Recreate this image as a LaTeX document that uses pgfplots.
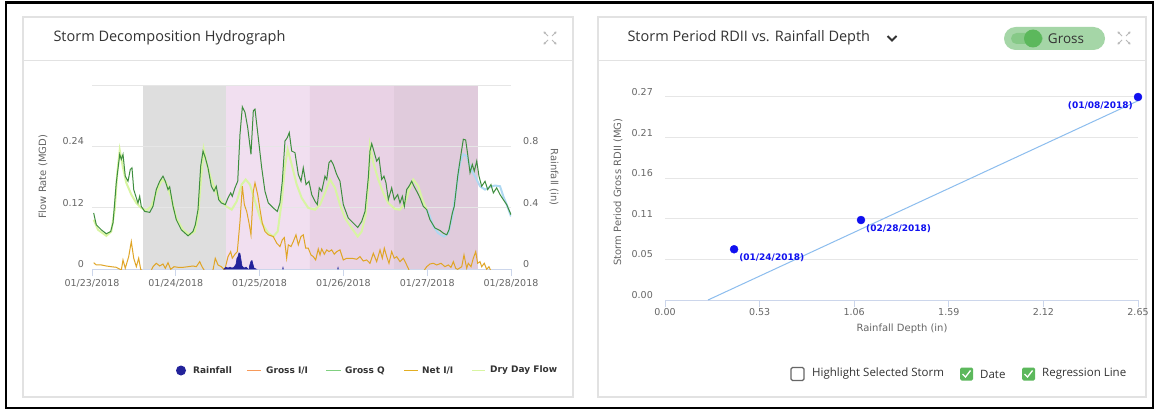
\documentclass[border=0pt]{standalone}
\usepackage{pgfplots}
\pgfplotsset{compat=1.18}
\usepackage{fontspec}
\setmainfont{DejaVu Sans}
\newfontfamily\uifont{Open Sans}
\usetikzlibrary{arrows.meta}
\definecolor{gridc}{HTML}{E6E6E6}
\definecolor{axisc}{HTML}{CCD6EB}
\definecolor{tickc}{HTML}{666666}
\definecolor{txtc}{HTML}{333333}
\definecolor{grossq}{HTML}{3E8E3E}
\definecolor{dryc}{HTML}{D8F5A2}
\definecolor{netc}{HTML}{E0A526}
\definecolor{grossii}{HTML}{F79A5A}
\definecolor{rainc}{HTML}{22229A}
\definecolor{lblue}{HTML}{AED8F2}
\definecolor{bandA}{HTML}{DEDEDE}
\definecolor{bandB}{HTML}{F1DFF0}
\definecolor{bandC}{HTML}{E9D2E5}
\definecolor{bandD}{HTML}{E0CBDC}
\definecolor{ptc}{HTML}{1010F0}
\definecolor{regc}{HTML}{8CBDEE}
\definecolor{cardc}{HTML}{E2E2E2}
\definecolor{pillc}{HTML}{A5D6A7}
\definecolor{knobc}{HTML}{5CB85C}
\definecolor{trackc}{HTML}{86C987}
\definecolor{chkc}{HTML}{5CB85C}
\newcommand\tickfont{\fontsize{9.5bp}{11bp}\selectfont}
\newcommand\expandicon[2]{%
  \begin{scope}[shift={(#1,#2)}, draw=gray!55, line width=0.8bp]
    \draw[-{Triangle[length=2.2bp,width=2.6bp]}] (-2,2) -- (-6.5,6.5);
    \draw[-{Triangle[length=2.2bp,width=2.6bp]}] (2,2) -- (6.5,6.5);
    \draw[-{Triangle[length=2.2bp,width=2.6bp]}] (-2,-2) -- (-6.5,-6.5);
    \draw[-{Triangle[length=2.2bp,width=2.6bp]}] (2,-2) -- (6.5,-6.5);
  \end{scope}}
\pgfplotsset{
  hyd/.style={scale only axis, width=419bp, height=184bp, xmin=0, xmax=5,
    at={(92bp,141bp)}, anchor=south west},
}
\begin{document}
\begin{tikzpicture}[x=1bp,y=1bp]
\useasboundingbox (0,0) rectangle (1156,410);
\fill[white] (0,0) rectangle (1156,410);
\draw[black, line width=2.5bp] (6,2) rectangle (1153,407.5);
% cards
\draw[cardc, line width=1.2bp, fill=white] (23,13) rectangle (573,393);
\draw[cardc, line width=1bp] (23,350) -- (573,350);
\draw[cardc, line width=1.2bp, fill=white] (598,13) rectangle (1146,393);
\draw[cardc, line width=1bp] (598,350) -- (1146,350);
\node[anchor=west, text=txtc, font=\uifont\fontsize{14.5bp}{16bp}\selectfont] at (50,372) {Storm Decomposition Hydrograph};
\node[anchor=west, text=txtc, font=\uifont\fontsize{14.5bp}{16bp}\selectfont] at (624,372) {Storm Period RDII vs. Rainfall Depth};
\draw[txtc, line width=1.8bp] (887.5,374) -- (892,369.5) -- (896.5,374);
\expandicon{550}{372}
\expandicon{1124}{372}
% toggle
\fill[pillc, rounded corners=11.5bp] (1004,360) rectangle (1105,383);
\fill[trackc, rounded corners=5.5bp] (1011,366) rectangle (1043,377);
\fill[knobc] (1033,371.5) circle (9);
\node[text=txtc, font=\uifont\fontsize{13.5bp}{15bp}\selectfont] at (1066,371.5) {Gross};

% ---------------- left chart ----------------
\begin{axis}[hyd, ymin=0, ymax=0.36, hide axis]
\addplot[fill=bandA, draw=none] coordinates {(0.609,0)(0.609,0.36)(1.599,0.36)(1.599,0)} \closedcycle;
\addplot[fill=bandB, draw=none] coordinates {(1.599,0)(1.599,0.36)(2.601,0.36)(2.601,0)} \closedcycle;
\addplot[fill=bandC, draw=none] coordinates {(2.601,0)(2.601,0.36)(3.604,0.36)(3.604,0)} \closedcycle;
\addplot[fill=bandD, draw=none] coordinates {(3.604,0)(3.604,0.36)(4.606,0.36)(4.606,0)} \closedcycle;
\end{axis}

\begin{axis}[hyd, ymin=0, ymax=0.36,
  axis x line*=bottom, axis y line*=left,
  y axis line style={draw=none}, x axis line style={draw=axisc, line width=1bp, -},
  xtick={0,1,2,3,4,5},
  xticklabels={01/23/2018,01/24/2018,01/25/2018,01/26/2018,01/27/2018,01/28/2018},
  tick align=outside, major tick length=7bp,
  xtick style={draw=axisc, line width=1bp}, ytick style={draw=none},
  ytick={0,0.12,0.24,0.36}, yticklabels={0,0.12,0.24,{}},
  ymajorgrids, grid style={draw=gridc, line width=1bp},
  ticklabel style={font=\tickfont, text=tickc},
  /pgf/number format/assume math mode=true,
  yticklabel style={anchor=east, yshift=5bp, inner sep=0pt, xshift=-1bp},
  xticklabel style={anchor=north, inner sep=0pt, yshift=-3bp},
]
\addplot[dryc, line width=2bp] coordinates {
(0.020,0.0964)(0.072,0.0767)(0.171,0.0649)(0.230,0.0734)(0.271,0.1161)(0.302,0.1883)(0.331,0.2327)(0.370,0.1981)(0.409,0.1686)(0.469,0.1456)(0.529,0.1292)(0.588,0.1194)(0.648,0.1147)(0.708,0.1226)(0.767,0.1489)(0.835,0.1751)(0.887,0.1686)(0.946,0.1391)(1.006,0.0997)(1.086,0.0767)(1.166,0.0669)(1.226,0.0734)(1.265,0.1029)(1.304,0.1816)(1.333,0.2341)(1.376,0.2012)(1.424,0.1751)(1.483,0.1489)(1.543,0.1324)(1.603,0.1226)(1.667,0.1161)(1.727,0.1324)(1.786,0.1652)(1.834,0.1751)(1.885,0.1652)(1.945,0.1324)(2.025,0.0899)(2.104,0.0702)(2.163,0.0635)(2.216,0.0734)(2.264,0.1324)(2.303,0.2012)(2.335,0.2341)(2.383,0.2046)(2.443,0.1652)(2.502,0.1391)(2.581,0.1194)(2.661,0.1161)(2.721,0.1259)(2.780,0.1489)(2.840,0.1751)(2.900,0.1588)(2.959,0.1259)(3.019,0.0997)(3.099,0.0801)(3.171,0.0635)(3.218,0.0734)(3.266,0.1062)(3.305,0.1784)(3.317,0.2406)(3.357,0.2079)(3.416,0.1751)(3.476,0.1489)(3.536,0.1292)(3.616,0.1174)(3.675,0.1161)(3.735,0.1292)(3.786,0.1554)(3.834,0.1751)(3.894,0.1619)(3.942,0.1357)(3.994,0.1161)};
\addplot[lblue, line width=2bp] coordinates {
(3.994,0.1161)(4.033,0.1029)(4.073,0.0832)(4.132,0.0702)(4.200,0.0635)(4.252,0.0702)(4.300,0.1029)(4.352,0.1619)(4.391,0.2079)(4.431,0.2243)(4.471,0.2209)(4.523,0.1948)(4.570,0.1816)(4.630,0.1619)(4.690,0.1554)(4.750,0.1607)(4.809,0.1633)(4.869,0.1619)(4.908,0.1422)(4.949,0.1259)(5.000,0.1029)};
\addplot[netc, line width=1bp] coordinates {
(0.020,0.0124)(0.051,0.0079)(0.111,0.0079)(0.171,0.0059)(0.230,0.0045)(0.290,0.0033)(0.350,-0.002)(0.370,0.0177)(0.397,0.0014)(0.438,0.0242)(0.469,0.0537)(0.498,0.0210)(0.529,0.0045)(0.557,0.0210)(0.581,-0.0006)(0.644,-0.010)(0.692,-0.008)(0.728,0.0045)(0.767,0.0112)(0.808,0.0059)(0.847,0.0098)(0.875,0.0014)(0.907,0.0124)(0.939,-0.0006)(0.979,0.0045)(1.026,0.0033)(1.086,0.0033)(1.146,0.0045)(1.205,0.0059)(1.245,0.0045)(1.285,0.0144)(1.313,0.0045)(1.345,-0.004)(1.396,-0.006)(1.444,-0.002)(1.471,0.0210)(1.504,0.0079)(1.543,0.0045)(1.584,-0.002)(1.623,0.0242)(1.655,0.0340)(1.674,0.0210)(1.706,0.0289)(1.734,0.0340)(1.766,0.0930)(1.794,0.1619)(1.818,0.1259)(1.846,0.1127)(1.874,0.0899)(1.897,0.0669)(1.925,0.1521)(1.945,0.1686)(1.977,0.1456)(2.005,0.1161)(2.032,0.0899)(2.064,0.0734)(2.104,0.0669)(2.163,0.0635)(2.204,0.0506)(2.243,0.0439)(2.271,0.0570)(2.295,0.0616)(2.323,0.0210)(2.343,0.0472)(2.375,0.0439)(2.402,0.0537)(2.434,0.0669)(2.462,0.0472)(2.494,0.0635)(2.521,0.0669)(2.550,0.0407)(2.581,0.0407)(2.613,0.0275)(2.641,0.0242)(2.669,0.0177)(2.700,0.0393)(2.721,0.0275)(2.741,0.0393)(2.772,0.0289)(2.801,0.0374)(2.828,0.0340)(2.860,0.0374)(2.891,0.0289)(2.920,0.0340)(2.959,0.0374)(2.999,0.0177)(3.039,0.0210)(3.099,0.0210)(3.159,0.0191)(3.198,0.0242)(3.237,0.0157)(3.278,0.0177)(3.317,0.0112)(3.357,0.0309)(3.397,0.0144)(3.437,0.0374)(3.464,0.0210)(3.488,0.0407)(3.517,0.0242)(3.544,0.0112)(3.576,0.0340)(3.607,0.0210)(3.636,0.0242)(3.675,0.0144)(3.715,0.0210)(3.755,0.0079)(3.783,-0.002)(3.819,-0.010)(3.914,-0.010)(3.962,-0.003)(3.994,0.0045)(4.033,0.0098)(4.073,0.0112)(4.113,0.0079)(4.165,0.0112)(4.212,0.0045)(4.252,0.0079)(4.284,0.0033)(4.312,0.0144)(4.340,0.0014)(4.364,-0.0006)(4.412,0.0045)(4.439,0.0275)(4.471,0.0014)(4.490,0.0112)(4.523,0.0045)(4.550,0.0210)(4.579,0.0340)(4.602,0.0112)(4.630,0.0144)(4.650,0.0045)(4.681,0.0112)(4.710,-0.0006)(4.737,0.0045)(4.761,-0.004)(4.809,-0.010)(5.000,-0.010)};
\addplot[grossq, line width=1bp] coordinates {
(0.020,0.1096)(0.051,0.0866)(0.111,0.0767)(0.171,0.0689)(0.223,0.0734)(0.251,0.0905)(0.290,0.1692)(0.331,0.2243)(0.350,0.2144)(0.370,0.2243)(0.397,0.1816)(0.430,0.1717)(0.457,0.1948)(0.477,0.1981)(0.498,0.1554)(0.529,0.1391)(0.549,0.1292)(0.569,0.1422)(0.588,0.1226)(0.629,0.1127)(0.689,0.1108)(0.728,0.1226)(0.767,0.1554)(0.808,0.1717)(0.847,0.1816)(0.875,0.1717)(0.907,0.1554)(0.927,0.1607)(0.967,0.1226)(1.006,0.0964)(1.066,0.0767)(1.146,0.0649)(1.205,0.0734)(1.233,0.0866)(1.265,0.1161)(1.297,0.2012)(1.325,0.2308)(1.352,0.2178)(1.384,0.1981)(1.424,0.1619)(1.456,0.1521)(1.483,0.1619)(1.512,0.1357)(1.543,0.1292)(1.591,0.1259)(1.623,0.1391)(1.655,0.1489)(1.674,0.1422)(1.706,0.1588)(1.739,0.1717)(1.766,0.2636)(1.794,0.3173)(1.826,0.3063)(1.858,0.2768)(1.897,0.2243)(1.925,0.3094)(1.945,0.3128)(1.984,0.2571)(2.025,0.1981)(2.064,0.1521)(2.104,0.1292)(2.163,0.1194)(2.211,0.1127)(2.243,0.1292)(2.271,0.1717)(2.303,0.2504)(2.331,0.2571)(2.354,0.2669)(2.383,0.2308)(2.422,0.2276)(2.462,0.1849)(2.494,0.1717)(2.521,0.1981)(2.554,0.1652)(2.589,0.1717)(2.622,0.1456)(2.661,0.1324)(2.689,0.1259)(2.712,0.1588)(2.741,0.1521)(2.780,0.1816)(2.801,0.1751)(2.828,0.2079)(2.852,0.2125)(2.879,0.2046)(2.920,0.1849)(2.959,0.1717)(2.999,0.1259)(3.058,0.0997)(3.118,0.0899)(3.171,0.0812)(3.218,0.0930)(3.258,0.1127)(3.297,0.1784)(3.317,0.2308)(3.338,0.2453)(3.369,0.2276)(3.397,0.2111)(3.425,0.2178)(3.457,0.1751)(3.484,0.1816)(3.508,0.1686)(3.536,0.1357)(3.576,0.1588)(3.607,0.1357)(3.648,0.1456)(3.675,0.1292)(3.703,0.1422)(3.727,0.1226)(3.755,0.1554)(3.783,0.1619)(3.815,0.1717)(3.842,0.1619)(3.875,0.1521)(3.914,0.1391)(3.953,0.1226)(3.994,0.1161)(4.033,0.0964)(4.093,0.0801)(4.153,0.0753)(4.192,0.0702)(4.233,0.0669)(4.260,0.0767)(4.300,0.1096)(4.323,0.1226)(4.364,0.1816)(4.403,0.2243)(4.431,0.2538)(4.459,0.2524)(4.483,0.2243)(4.511,0.1883)(4.538,0.2046)(4.562,0.1914)(4.591,0.2111)(4.618,0.1816)(4.650,0.1619)(4.690,0.1717)(4.722,0.1554)(4.761,0.1652)(4.789,0.1489)(4.829,0.1588)(4.869,0.1456)(4.908,0.1357)(4.949,0.1259)(5.000,0.1062)};
\end{axis}

\begin{axis}[hyd, ymin=0, ymax=1.2,
  axis x line=none, axis y line*=right,
  y axis line style={draw=none}, ytick style={draw=none},
  tick align=outside, major tick length=7bp,
  ytick={0,0.4,0.8}, yticklabels={0,0.4,0.8},
  ticklabel style={font=\tickfont, text=tickc},
  /pgf/number format/assume math mode=true,
  yticklabel style={anchor=west, yshift=5bp, inner sep=0pt, xshift=5bp},
]
\addplot[fill=rainc, draw=rainc, line width=0.6bp] coordinates {
(1.575,0)(1.599,0.012)(1.623,0.006)(1.647,0.012)(1.671,0.006)(1.695,0.012)(1.718,0.030)(1.730,0.070)(1.742,0.080)(1.754,0.105)(1.766,0.100)(1.778,0.060)(1.790,0.020)(1.814,0.006)(1.838,0.012)(1.862,0)} \closedcycle;
\addplot[fill=rainc, draw=rainc, line width=0.6bp] coordinates {
(1.874,0)(1.885,0.030)(1.897,0.050)(1.909,0.055)(1.921,0.030)(1.933,0.006)(1.957,0)} \closedcycle;
\addplot[fill=rainc!70!white, draw=rainc!70!white, line width=0.6bp] coordinates {
(2.272,0)(2.279,0.012)(2.286,0)} \closedcycle;
\addplot[fill=rainc!70!white, draw=rainc!70!white, line width=0.6bp] coordinates {
(2.929,0)(2.936,0.012)(2.943,0)} \closedcycle;
\end{axis}

\node[rotate=90, text=tickc, font=\fontsize{10bp}{12bp}\selectfont] at (43,233) {Flow Rate (MGD)};
\node[rotate=-90, text=tickc, font=\fontsize{10bp}{12bp}\selectfont] at (554,233) {Rainfall (in)};

% legend (left chart)
\begin{scope}[font=\bfseries\fontsize{9bp}{11bp}\selectfont, text=txtc]
\fill[rainc] (181,39.5) circle (5);
\node[anchor=west, inner sep=0pt] at (193,39.5) {Rainfall};
\draw[grossii, line width=1.5bp] (247,39.5) -- (261,39.5);
\node[anchor=west, inner sep=0pt] at (266,39.5) {Gross I/I};
\draw[grossq!70!green!60!white, line width=1.5bp] (326,39.5) -- (340.5,39.5);
\node[anchor=west, inner sep=0pt] at (345,39.5) {Gross Q};
\draw[netc!90!yellow, line width=1.5bp] (404,39.5) -- (418,39.5);
\node[anchor=west, inner sep=0pt] at (422,39.5) {Net I/I};
\draw[dryc, line width=1.5bp] (472,39.5) -- (485,39.5);
\node[anchor=west, inner sep=0pt] at (490,39.5) {Dry Day Flow};
\end{scope}

% ---------------- right chart ----------------
\begin{axis}[scale only axis, width=473bp, height=203bp, at={(665bp,110bp)}, anchor=south west,
  xmin=0, xmax=2.65, ymin=0, ymax=0.268, clip=false,
  axis x line*=bottom, axis y line*=left,
  y axis line style={draw=none}, x axis line style={draw=axisc, line width=1bp, -},
  tick align=outside, major tick length=7bp,
  xtick style={draw=axisc, line width=1bp}, ytick style={draw=none},
  xtick={0,0.53,1.06,1.59,2.12,2.65}, xticklabels={0.00,0.53,1.06,1.59,2.12,2.65},
  ytick={0,0.0536,0.1072,0.1608,0.2144,0.268}, yticklabels={0.00,0.05,0.11,0.16,0.21,0.27},
  ymajorgrids, grid style={draw=gridc, line width=1bp},
  ticklabel style={font=\tickfont, text=tickc},
  /pgf/number format/assume math mode=true,
  yticklabel style={anchor=east, yshift=5bp, inner sep=0pt, xshift=-5bp},
  xticklabel style={anchor=north, inner sep=0pt, yshift=-1bp},
]
\addplot[regc, line width=1bp] coordinates {(0.241,0)(2.65,0.263)};
\addplot[only marks, mark=*, mark size=4bp, ptc,
  nodes near coords, point meta=explicit symbolic,
  every node near coord/.style={anchor=north west, font=\bfseries\fontsize{9bp}{11bp}\selectfont, text=ptc, inner sep=0pt, xshift=5bp, yshift=-4bp}]
  coordinates {(0.387,0.067) [(01/24/2018)] (1.098,0.1056) [(02/28/2018)]};
\addplot[only marks, mark=*, mark size=4bp, ptc,
  nodes near coords, point meta=explicit symbolic,
  every node near coord/.style={anchor=north east, font=\bfseries\fontsize{9bp}{11bp}\selectfont, text=ptc, inner sep=0pt, xshift=-5bp, yshift=-4bp}]
  coordinates {(2.65,0.268) [(01/08/2018)]};
\end{axis}

\node[rotate=90, text=tickc, font=\fontsize{10bp}{12bp}\selectfont] at (618,218) {Storm Period Gross RDII (MG)};
\node[text=tickc, font=\fontsize{10bp}{12bp}\selectfont] at (902,81) {Rainfall Depth (in)};

% checkboxes
\begin{scope}[font=\uifont\fontsize{11.5bp}{13bp}\selectfont, text=txtc]
\draw[tickc, line width=1.2bp, rounded corners=1.5bp] (791,29.5) rectangle (804,42.5);
\node[anchor=west, inner sep=0pt] at (812,36) {Highlight Selected Storm};
\fill[chkc, rounded corners=1.5bp] (960,29.5) rectangle (973,42.5);
\draw[white, line width=1.3bp] (962.5,36) -- (965.5,33) -- (970.5,39.5);
\node[anchor=west, inner sep=0pt] at (980,36) {Date};
\fill[chkc, rounded corners=1.5bp] (1022,29.5) rectangle (1035,42.5);
\draw[white, line width=1.3bp] (1024.5,36) -- (1027.5,33) -- (1032.5,39.5);
\node[anchor=west, inner sep=0pt] at (1042,36) {Regression Line};
\end{scope}
\end{tikzpicture}
\end{document}
